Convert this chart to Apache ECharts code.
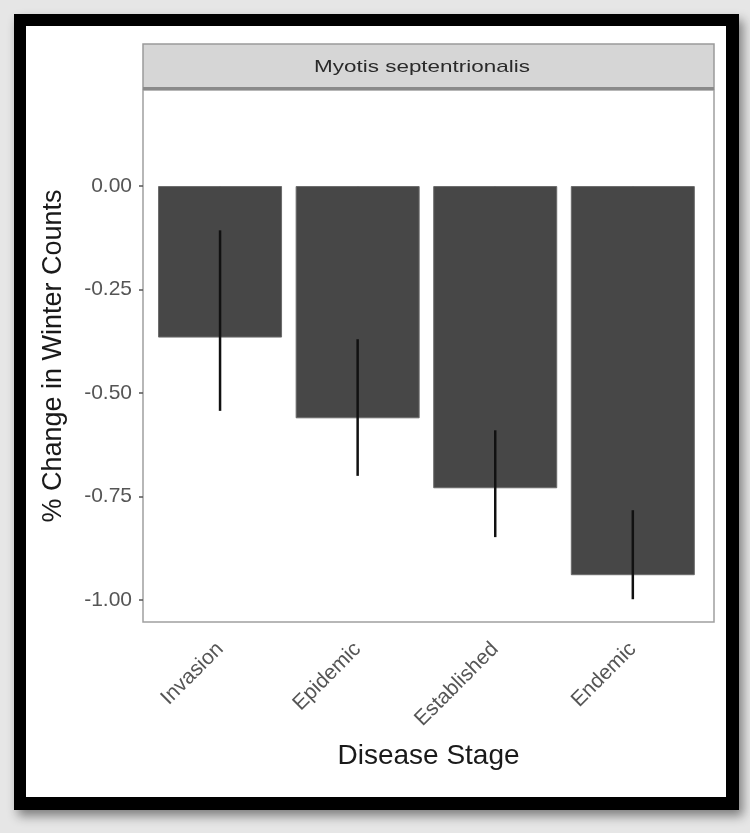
<!DOCTYPE html>
<html><head><meta charset="utf-8">
<script src="https://cdn.jsdelivr.net/npm/echarts@6/dist/echarts.min.js"></script>
<style>html,body{margin:0;padding:0;background:#e6e6e6}#c{width:750px;height:833px}</style>
</head><body><div id="c"></div>
<script>
const categories = ["Invasion", "Epidemic", "Established", "Endemic"];
const positions = [1, 2, 3, 4];
const meanChange = [-0.366, -0.561, -0.730, -0.940];
const errUpper = [-0.107, -0.370, -0.590, -0.783];
const errLower = [-0.543, -0.700, -0.848, -0.998];
const yTicks = [-1.00, -0.75, -0.50, -0.25, 0.00];
const panelTitle = "Myotis septentrionalis";
const xTitle = "Disease Stage";
const yTitle = "% Change in Winter Counts";

const chart = echarts.init(document.getElementById('c'), null, {renderer: 'canvas'});
const font = '"Liberation Sans", Arial, sans-serif';
const barData = positions.map((p, i) => [p, meanChange[i]]);
const errData = positions.map((p, i) => [p, errUpper[i], errLower[i]]);

chart.setOption({
  animation: false,
  backgroundColor: '#e6e6e6',
  graphic: [
    {type: 'rect', z: -10, shape: {x: 14, y: 14, width: 725, height: 796},
     style: {fill: '#000', shadowBlur: 10, shadowOffsetX: 4, shadowOffsetY: 6, shadowColor: 'rgba(0,0,0,0.45)'}},
    {type: 'rect', z: -9, shape: {x: 26, y: 26, width: 700, height: 771}, style: {fill: '#fff'}},
    {type: 'rect', z: 5, shape: {x: 143, y: 44, width: 571, height: 45},
     style: {fill: '#d6d6d6', stroke: '#9a9a9a', lineWidth: 1.5}},
    {type: 'rect', z: 6, shape: {x: 143, y: 87, width: 571, height: 3}, style: {fill: '#8a8a8a'}},
    {type: 'text', z: 7, x: 422, y: 67, scaleX: 1.32,
     style: {text: panelTitle, font: '17px ' + font, fill: '#2a2a2a', textAlign: 'center', textVerticalAlign: 'middle'}}
  ],
  grid: {left: 143, right: 36, top: 90, bottom: 211, show: true, borderColor: '#a0a0a0', borderWidth: 1.5, backgroundColor: '#fff'},
  xAxis: {
    type: 'value', min: 0.44, max: 4.59,
    splitLine: {show: false},
    axisLine: {show: false},
    axisTick: {show: true, customValues: positions, length: 5, lineStyle: {color: '#555', width: 1.5}},
    axisLabel: {show: true, customValues: positions, rotate: 45, margin: 24,
      formatter: v => categories[Math.round(v) - 1] || '',
      color: '#555', fontSize: 21, fontFamily: font},
    name: xTitle, nameLocation: 'middle', nameGap: 120,
    nameTextStyle: {color: '#1a1a1a', fontSize: 28, fontFamily: font}
  },
  yAxis: {
    type: 'value', min: -1.053, max: 0.232,
    splitLine: {show: false},
    axisLine: {show: false},
    axisTick: {show: true, customValues: yTicks, length: 4, lineStyle: {color: '#555', width: 1.5}},
    axisLabel: {show: true, customValues: yTicks, margin: 11,
      formatter: v => v.toFixed(2), color: '#555', fontSize: 21, fontFamily: font},
    name: yTitle, nameLocation: 'middle', nameGap: 76,
    nameTextStyle: {color: '#1a1a1a', fontSize: 27, fontFamily: font}
  },
  series: [
    {type: 'bar', data: barData, barWidth: 124, itemStyle: {color: '#474747', borderColor: '#6a6a6a', borderWidth: 1}},
    {type: 'custom', data: errData, z: 10,
     renderItem: (params, api) => {
       const a = api.coord([api.value(0), api.value(1)]);
       const b = api.coord([api.value(0), api.value(2)]);
       return {type: 'line', shape: {x1: a[0], y1: a[1], x2: b[0], y2: b[1]},
               style: {stroke: '#111', lineWidth: 2.5}};
     }}
  ]
});
</script></body></html>
